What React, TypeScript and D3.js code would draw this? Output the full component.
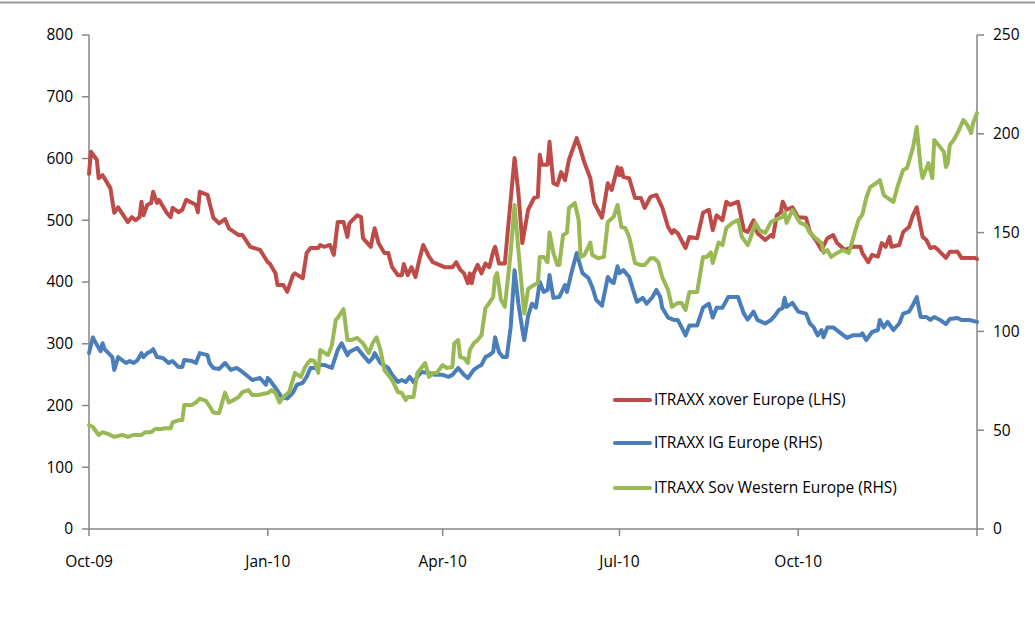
import React from "react";
import * as d3 from "d3";

const START_DATE = new Date(2009, 9, 1);
const END_DATE = new Date(2011, 0, 1);

const leftTicks = [0, 100, 200, 300, 400, 500, 600, 700, 800];
const rightTicks = [0, 50, 100, 150, 200, 250];

const seriesNames = [
  "ITRAXX xover Europe (LHS)",
  "ITRAXX IG Europe (RHS)",
  "ITRAXX Sov Western Europe (RHS)",
];

// [days since 1 Oct 2009, value]
const xoverEurope: [number, number][] = [
  [0, 575], [1, 611], [4, 598], [5, 568], [7, 573], [11, 552], [13, 512], [15, 521], [20, 497], [22, 505],
  [24, 500], [26, 505], [27, 530], [28, 508], [30, 525], [32, 528], [33, 546], [35, 528], [36, 533], [40, 512],
  [42, 505], [43, 520], [46, 513], [48, 517], [50, 533], [55, 525], [56, 513], [57, 546], [61, 541], [64, 504],
  [67, 495], [70, 502], [72, 487], [77, 476], [79, 476], [83, 457], [88, 452], [92, 432], [93, 430], [96, 414],
  [97, 395], [100, 395], [102, 384], [105, 411], [106, 414], [110, 406], [112, 447], [114, 455], [118, 455], [119, 460],
  [121, 457], [124, 460], [126, 444], [128, 497], [131, 497], [133, 473], [134, 495], [138, 508], [140, 505], [141, 471],
  [145, 457], [146, 473], [147, 487], [149, 463], [152, 447], [154, 447], [156, 424], [159, 411], [161, 411], [162, 429],
  [164, 411], [166, 424], [168, 408], [170, 436], [172, 460], [175, 441], [177, 432], [180, 428], [183, 424], [187, 424],
  [189, 432], [191, 420], [193, 414], [195, 398], [196, 414], [197, 398], [198, 414], [200, 428], [202, 414], [204, 430],
  [206, 424], [208, 449], [209, 457], [211, 430], [214, 430], [219, 601], [221, 544], [223, 463], [226, 517], [229, 536],
  [231, 538], [232, 606], [233, 590], [236, 590], [237, 627], [239, 560], [241, 557], [243, 578], [245, 565], [246, 581],
  [247, 598], [251, 633], [253, 614], [255, 593], [258, 568], [260, 528], [264, 504], [267, 560], [269, 549], [272, 586],
  [273, 573], [274, 584], [275, 570], [278, 568], [281, 536], [284, 536], [286, 520], [289, 538], [292, 541], [295, 521],
  [298, 489], [300, 479], [301, 484], [303, 479], [307, 455], [309, 473], [313, 471], [316, 512], [319, 517], [321, 484],
  [323, 508], [326, 500], [328, 530], [330, 525], [334, 530], [337, 484], [339, 481], [342, 500], [344, 479], [348, 468],
  [351, 476], [352, 473], [354, 508], [356, 513], [357, 530], [359, 517], [362, 521], [365, 505], [369, 504], [371, 481],
  [374, 468], [377, 452], [380, 471], [383, 476], [385, 463], [389, 452], [393, 457], [397, 457], [398, 447], [401, 432],
  [403, 444], [406, 441], [408, 463], [410, 457], [412, 473], [413, 457], [417, 460], [419, 481], [422, 489], [424, 508],
  [426, 521], [429, 473], [431, 468], [433, 455], [435, 457], [437, 452], [441, 439], [443, 449], [447, 449], [449, 439],
  [452, 439], [456, 439], [457, 437],
];

const igEurope: [number, number][] = [
  [0, 89], [2, 97], [3, 95], [6, 90], [7, 94], [8, 91], [12, 87], [13, 80.5], [15, 87], [19, 84],
  [21, 85], [23, 84], [25, 85.5], [27, 89], [28, 87], [30, 89], [32, 90], [33, 91], [35, 87], [38, 86.5],
  [41, 84], [43, 85], [46, 82], [48, 82], [49, 85.5], [53, 85], [55, 84], [57, 89], [61, 88], [62, 84],
  [64, 81.5], [67, 81], [70, 84], [73, 80.5], [76, 81.5], [79, 79.5], [82, 77], [84, 75.4], [88, 76.4], [91, 73],
  [92, 76.4], [93, 75.4], [96, 71.4], [99, 67], [102, 66], [105, 69], [107, 73], [110, 74], [112, 77], [114, 81.5],
  [117, 81.5], [119, 83], [121, 83], [125, 81.5], [128, 90.6], [130, 94], [133, 88], [134, 89.6], [138, 91.6], [141, 88],
  [144, 84.5], [146, 86.5], [147, 89], [150, 84], [154, 81.5], [156, 78], [159, 74.4], [161, 75.4], [163, 74.4], [165, 77],
  [167, 74.4], [169, 77], [171, 79.5], [175, 79], [178, 78], [182, 78], [185, 77], [187, 78], [190, 81.5], [193, 78],
  [195, 76.4], [198, 80.5], [200, 82], [202, 83], [204, 87], [206, 88], [208, 89.6], [209, 97], [211, 89.6], [213, 87],
  [215, 87], [217, 102], [219, 131], [221, 114], [223, 101], [224, 95.6], [226, 108], [228, 114], [230, 112], [232, 125],
  [234, 120], [236, 121], [237, 128.5], [239, 117], [242, 117.4], [245, 123.5], [246, 120], [248, 128.5], [251, 139.7], [253, 132.6],
  [254, 129.5], [257, 127], [259, 122.5], [261, 116], [264, 113], [267, 127.5], [269, 125], [270, 124.5], [272, 133], [273, 129.5],
  [275, 131], [278, 127.5], [280, 121], [282, 115], [285, 117], [287, 114], [290, 117.4], [292, 121], [294, 117.4], [295, 112],
  [298, 107], [301, 105.8], [303, 105.8], [305, 102], [307, 98], [309, 103], [313, 103], [316, 112], [319, 114], [321, 107],
  [323, 112], [326, 112], [329, 117.4], [334, 117.4], [337, 109], [339, 106], [342, 110], [344, 105.8], [348, 104], [351, 105.8],
  [353, 108], [355, 110.8], [357, 111.8], [358, 117], [359, 112.4], [362, 114.4], [365, 110], [369, 109], [371, 104], [373, 102],
  [375, 98], [377, 100.7], [378, 97], [380, 102], [383, 102], [387, 99], [390, 96.7], [393, 98], [397, 98], [398, 99],
  [400, 95.6], [403, 99.7], [406, 100.7], [407, 105.8], [409, 102], [411, 104.8], [414, 100.7], [417, 104], [419, 109], [422, 110],
  [424, 113.4], [426, 117.4], [428, 107.3], [431, 107.3], [433, 105.8], [435, 107.3], [438, 105.8], [441, 103.7], [443, 106.3], [447, 106.8],
  [449, 105.8], [453, 105.8], [457, 104.8],
];

const sovWesternEurope: [number, number][] = [
  [0, 52.6], [2, 51.6], [5, 47.6], [7, 49], [10, 48], [13, 46.6], [17, 47.6], [20, 46.6], [23, 47.6], [27, 47.6],
  [29, 49], [32, 49], [34, 50.6], [37, 50.6], [39, 51], [42, 51], [43, 54], [46, 55], [48, 55], [49, 62.8],
  [53, 62.8], [55, 64], [57, 66], [60, 65], [61, 63.8], [64, 59], [66, 58.7], [67, 58.7], [70, 69], [72, 64],
  [74, 65], [77, 66.8], [79, 69.3], [82, 70.3], [84, 67.8], [87, 67.8], [92, 68.8], [94, 70.3], [96, 68.8], [98, 64],
  [100, 66.8], [103, 69.3], [106, 79], [109, 77], [111, 81.5], [113, 84.5], [114, 85.5], [116, 85], [118, 79], [119, 90.6],
  [123, 88], [125, 93], [127, 105.8], [128, 106.8], [131, 111.3], [133, 95.6], [135, 95.6], [138, 96.7], [141, 94], [144, 89],
  [146, 94], [148, 97], [150, 90.6], [152, 80.5], [156, 75.4], [159, 69.3], [161, 68.8], [163, 65.3], [164, 66.8], [167, 66.8],
  [169, 79], [171, 81.5], [173, 84], [175, 77], [177, 79], [179, 79], [182, 83], [184, 81.5], [187, 82], [188, 94],
  [190, 95.6], [191, 87], [193, 86.5], [195, 84], [196, 90.6], [198, 94], [200, 95.6], [202, 98], [204, 111.8], [206, 114.4],
  [208, 117.4], [209, 127.5], [210, 129.5], [212, 116], [214, 112.4], [217, 139.7], [219, 164], [221, 141], [223, 119.4], [224, 109],
  [226, 121.5], [229, 123.5], [231, 124.5], [232, 137.7], [234, 137.7], [236, 135], [237, 150], [239, 139.7], [241, 133.6], [242, 133.6],
  [244, 148.8], [246, 150], [247, 162.4], [250, 165], [252, 156.4], [253, 137.7], [255, 138.7], [258, 145], [259, 138.7], [262, 137],
  [265, 137.7], [267, 155.4], [270, 158], [272, 164], [274, 152.8], [276, 152.3], [278, 147.8], [281, 134.6], [284, 133.6], [286, 133.6],
  [289, 137], [291, 137], [293, 135], [295, 127.5], [298, 121], [300, 112.4], [303, 114.4], [305, 114.4], [307, 110.8], [309, 120],
  [313, 120], [316, 137.7], [318, 137.7], [320, 140], [321, 134.6], [324, 145], [326, 143.7], [328, 152.3], [331, 154.9], [334, 156.4],
  [336, 147.8], [339, 143.7], [340, 146], [343, 154.9], [345, 151.3], [348, 149.8], [351, 155.4], [353, 156.4], [357, 158], [358, 160.4],
  [359, 154.9], [362, 161.4], [366, 154.9], [369, 153.8], [371, 149.8], [375, 146.3], [377, 144.7], [378, 139.7], [380, 141.2], [382, 137.7],
  [385, 139.7], [388, 141.2], [391, 139.7], [393, 146.3], [396, 156.4], [398, 159], [400, 167.5], [402, 173], [406, 175.6], [407, 176.6],
  [409, 169], [411, 167.5], [414, 165.5], [416, 173], [419, 181.7], [421, 182.7], [424, 192.8], [426, 203.4], [428, 183.2], [429, 177.6],
  [432, 185.2], [434, 177.6], [435, 196.9], [438, 193.3], [440, 190.8], [441, 183.2], [442, 185.2], [443, 194.3], [445, 196.9], [447, 200.4],
  [450, 207], [452, 204.5], [454, 200.4], [455, 205.5], [457, 210.5],
];

const COLORS = ["#BE4B48", "#4A7EBB", "#98B954"];
const AXIS = "#868686";
const FONT = "'Open Sans', 'Liberation Sans', sans-serif";
const FS = 15.5;

export default function App() {
  const W = 1035, H = 622;
  const left = 89, right = 977, top = 35, bottom = 529;

  const x = d3.scaleTime().domain([START_DATE, END_DATE]).range([left, right]);
  const yL = d3.scaleLinear().domain([0, 800]).range([bottom, top]);
  const yR = d3.scaleLinear().domain([0, 250]).range([bottom, top]);

  const toDate = (d: number) => d3.timeDay.offset(START_DATE, d);
  const mk = (ys: d3.ScaleLinear<number, number>) =>
    d3.line<[number, number]>().x((p) => x(toDate(p[0]))).y((p) => ys(p[1]));

  const xTicks = d3.timeMonth.every(3)!.range(START_DATE, d3.timeDay.offset(END_DATE, 1));
  const fmt = d3.timeFormat("%b-%y");

  const paths = [
    { data: xoverEurope, ys: yL },
    { data: igEurope, ys: yR },
    { data: sovWesternEurope, ys: yR },
  ];

  const legendY = [400, 443, 488];

  return (
    <div style={{ position: "absolute", left: 0, top: 0 }}>
      <svg width={W} height={H} style={{ display: "block", background: "#fff" }} fontFamily={FONT}>
        <line x1={0} x2={W} y1={2.5} y2={2.5} stroke="#9a9a9a" strokeWidth={2} />
        {/* left axis */}
        <line x1={left} x2={left} y1={top} y2={bottom} stroke={AXIS} strokeWidth={1.5} />
        {leftTicks.map((t) => (
          <g key={"l" + t}>
            <line x1={left - 7} x2={left} y1={yL(t)} y2={yL(t)} stroke={AXIS} strokeWidth={1.5} />
            <text x={left - 16} y={yL(t)} dy="0.35em" textAnchor="end" fontSize={FS} fill="#000">
              {t}
            </text>
          </g>
        ))}
        {/* right axis */}
        <line x1={right} x2={right} y1={top} y2={bottom} stroke={AXIS} strokeWidth={1.5} />
        {rightTicks.map((t) => (
          <g key={"r" + t}>
            <line x1={right} x2={right + 7} y1={yR(t)} y2={yR(t)} stroke={AXIS} strokeWidth={1.5} />
            <text x={right + 16} y={yR(t)} dy="0.35em" textAnchor="start" fontSize={FS} fill="#000">
              {t}
            </text>
          </g>
        ))}
        {/* bottom axis */}
        <line x1={left} x2={right} y1={bottom} y2={bottom} stroke={AXIS} strokeWidth={1.5} />
        {xTicks.map((t, i) => (
          <g key={"x" + i}>
            <line x1={x(t)} x2={x(t)} y1={bottom} y2={bottom + 7} stroke={AXIS} strokeWidth={1.5} />
            {i < xTicks.length - 1 && (
              <text x={x(t)} y={bottom + 33} dy="0.35em" textAnchor="middle" fontSize={FS} fill="#000">
                {fmt(t)}
              </text>
            )}
          </g>
        ))}
        {/* series */}
        {paths.map((p, i) => (
          <path
            key={"s" + i}
            d={mk(p.ys)(p.data) || ""}
            fill="none"
            stroke={COLORS[i]}
            strokeWidth={4}
            strokeLinejoin="round"
            strokeLinecap="round"
          />
        ))}
        {/* legend */}
        {seriesNames.map((n, i) => (
          <g key={"lg" + i}>
            <line x1={615} x2={650} y1={legendY[i]} y2={legendY[i]} stroke={COLORS[i]} strokeWidth={4} strokeLinecap="round" />
            <text x={654} y={legendY[i]} dy="0.35em" fontSize={FS} fill="#000">
              {n}
            </text>
          </g>
        ))}
      </svg>
    </div>
  );
}
